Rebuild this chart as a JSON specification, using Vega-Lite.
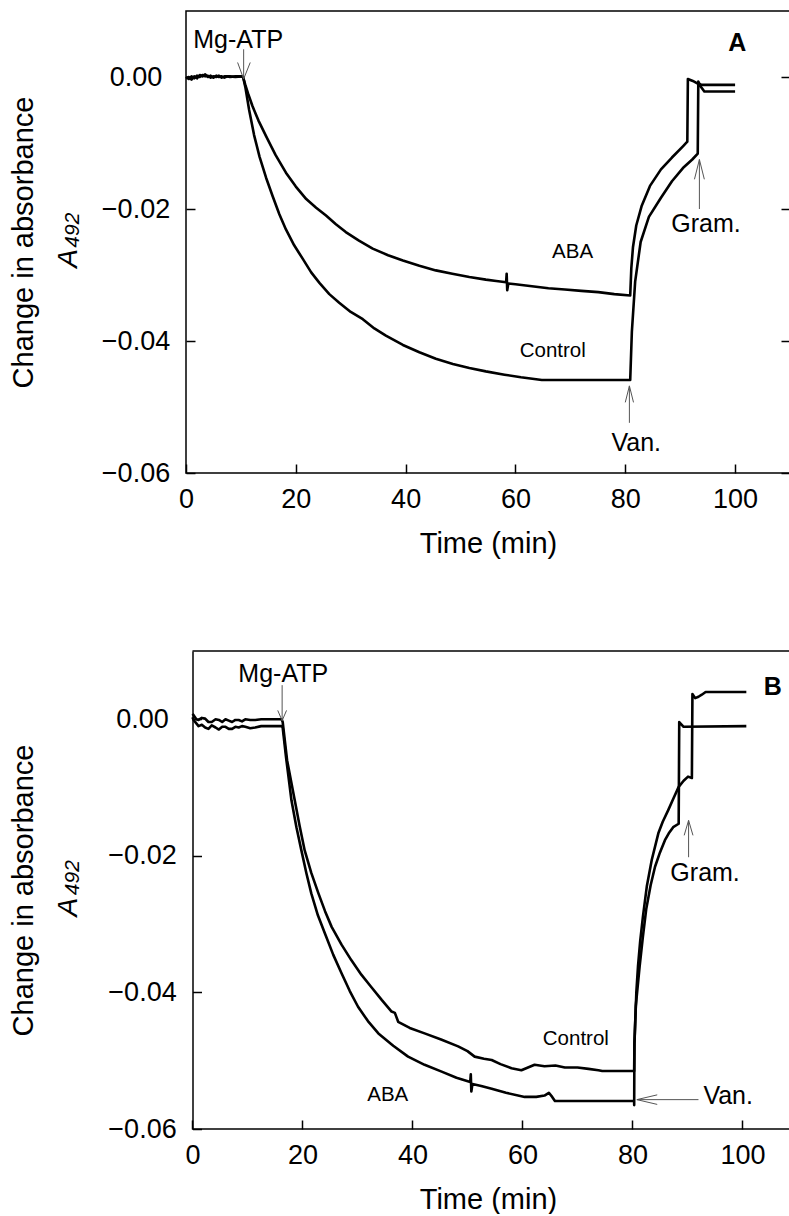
{
  "$schema": "https://vega.github.io/schema/vega-lite/v6.json",
  "background": "white",
  "padding": {"left": 8, "top": 10, "right": 0, "bottom": 0},
  "spacing": 91,
  "config": {
    "font": "Liberation Sans",
    "view": {"stroke": "black", "strokeWidth": 1.5},
    "axis": {"grid": false, "labelFlush": false, "labelOverlap": false, "labelColor": "black", "titleColor": "black", "tickColor": "black", "domainColor": "black", "labelFontSize": 27, "titleFontSize": 29, "titleFontWeight": "normal", "tickWidth": 1.5, "domainWidth": 1.5}
  },
  "datasets": {
    "curves": [
      {"p":"A","s":"ABA","t":0,"v":-0.0002},{"p":"A","s":"ABA","t":0.5,"v":0.0},{"p":"A","s":"ABA","t":1,"v":-0.0004},{"p":"A","s":"ABA","t":1.5,"v":0.0001},{"p":"A","s":"ABA","t":2,"v":-0.0002},{"p":"A","s":"ABA","t":2.5,"v":0.0003},{"p":"A","s":"ABA","t":3,"v":0.0001},{"p":"A","s":"ABA","t":3.5,"v":0.0004},{"p":"A","s":"ABA","t":4,"v":0.0},{"p":"A","s":"ABA","t":4.5,"v":0.0002},{"p":"A","s":"ABA","t":5,"v":-0.0001},{"p":"A","s":"ABA","t":5.5,"v":0.0002},{"p":"A","s":"ABA","t":6,"v":0.0},{"p":"A","s":"ABA","t":6.5,"v":0.0001},{"p":"A","s":"ABA","t":7,"v":-0.0001},{"p":"A","s":"ABA","t":7.5,"v":0.0001},{"p":"A","s":"ABA","t":8,"v":0.0},{"p":"A","s":"ABA","t":9,"v":0.0001},{"p":"A","s":"ABA","t":10,"v":0.0001},{"p":"A","s":"ABA","t":10.4,"v":0.0},
      {"p":"A","s":"ABA","t":10.8,"v":-0.0012},{"p":"A","s":"ABA","t":11.3,"v":-0.0025},{"p":"A","s":"ABA","t":12.1,"v":-0.0044},{"p":"A","s":"ABA","t":13.2,"v":-0.0066},{"p":"A","s":"ABA","t":14.6,"v":-0.009},{"p":"A","s":"ABA","t":16.3,"v":-0.0118},{"p":"A","s":"ABA","t":18.2,"v":-0.0145},{"p":"A","s":"ABA","t":20,"v":-0.0166},{"p":"A","s":"ABA","t":21.9,"v":-0.0185},{"p":"A","s":"ABA","t":23.7,"v":-0.0198},{"p":"A","s":"ABA","t":25.5,"v":-0.021},{"p":"A","s":"ABA","t":27.3,"v":-0.0223},{"p":"A","s":"ABA","t":29.1,"v":-0.0235},{"p":"A","s":"ABA","t":31.5,"v":-0.0248},{"p":"A","s":"ABA","t":34,"v":-0.026},{"p":"A","s":"ABA","t":36.8,"v":-0.027},{"p":"A","s":"ABA","t":39.5,"v":-0.0278},{"p":"A","s":"ABA","t":42.5,"v":-0.0286},{"p":"A","s":"ABA","t":45.5,"v":-0.0293},{"p":"A","s":"ABA","t":48.5,"v":-0.0298},{"p":"A","s":"ABA","t":51.6,"v":-0.0303},{"p":"A","s":"ABA","t":54.6,"v":-0.0307},{"p":"A","s":"ABA","t":56.5,"v":-0.0309},{"p":"A","s":"ABA","t":58.3,"v":-0.0311},{"p":"A","s":"ABA","t":58.4,"v":-0.0298},{"p":"A","s":"ABA","t":58.5,"v":-0.0323},{"p":"A","s":"ABA","t":58.7,"v":-0.0313},{"p":"A","s":"ABA","t":60,"v":-0.0314},{"p":"A","s":"ABA","t":63,"v":-0.0317},{"p":"A","s":"ABA","t":66,"v":-0.032},{"p":"A","s":"ABA","t":69,"v":-0.0322},{"p":"A","s":"ABA","t":72,"v":-0.0324},{"p":"A","s":"ABA","t":75.1,"v":-0.0326},{"p":"A","s":"ABA","t":78,"v":-0.0329},{"p":"A","s":"ABA","t":80.9,"v":-0.0331},
      {"p":"A","s":"ABA","t":81.1,"v":-0.029},{"p":"A","s":"ABA","t":81.4,"v":-0.0258},{"p":"A","s":"ABA","t":82,"v":-0.0225},{"p":"A","s":"ABA","t":83,"v":-0.0195},{"p":"A","s":"ABA","t":84.5,"v":-0.0165},{"p":"A","s":"ABA","t":86.5,"v":-0.014},{"p":"A","s":"ABA","t":88.5,"v":-0.0122},{"p":"A","s":"ABA","t":90.5,"v":-0.0105},{"p":"A","s":"ABA","t":91.3,"v":-0.0098},{"p":"A","s":"ABA","t":91.4,"v":-0.0003},{"p":"A","s":"ABA","t":92.3,"v":-0.0006},{"p":"A","s":"ABA","t":93.2,"v":-0.001},{"p":"A","s":"ABA","t":94,"v":-0.0012},{"p":"A","s":"ABA","t":100,"v":-0.0012},

      {"p":"A","s":"Control","t":0,"v":0.0},{"p":"A","s":"Control","t":0.5,"v":-0.0003},{"p":"A","s":"Control","t":1,"v":0.0001},{"p":"A","s":"Control","t":1.5,"v":-0.0002},{"p":"A","s":"Control","t":2,"v":0.0002},{"p":"A","s":"Control","t":2.5,"v":0.0},{"p":"A","s":"Control","t":3,"v":0.0003},{"p":"A","s":"Control","t":3.5,"v":0.0001},{"p":"A","s":"Control","t":4,"v":0.0002},{"p":"A","s":"Control","t":4.5,"v":-0.0001},{"p":"A","s":"Control","t":5,"v":0.0001},{"p":"A","s":"Control","t":5.5,"v":0.0},{"p":"A","s":"Control","t":6,"v":0.0002},{"p":"A","s":"Control","t":6.5,"v":-0.0001},{"p":"A","s":"Control","t":7,"v":0.0001},{"p":"A","s":"Control","t":8,"v":0.0001},{"p":"A","s":"Control","t":9,"v":0.0},{"p":"A","s":"Control","t":10,"v":0.0001},{"p":"A","s":"Control","t":10.4,"v":0.0},
      {"p":"A","s":"Control","t":10.8,"v":-0.0015},{"p":"A","s":"Control","t":11.5,"v":-0.005},{"p":"A","s":"Control","t":12.4,"v":-0.0088},{"p":"A","s":"Control","t":13.4,"v":-0.0121},{"p":"A","s":"Control","t":14.6,"v":-0.0153},{"p":"A","s":"Control","t":15.8,"v":-0.0181},{"p":"A","s":"Control","t":17,"v":-0.0208},{"p":"A","s":"Control","t":18.2,"v":-0.0231},{"p":"A","s":"Control","t":19.7,"v":-0.0255},{"p":"A","s":"Control","t":21.3,"v":-0.0276},{"p":"A","s":"Control","t":22.8,"v":-0.0296},{"p":"A","s":"Control","t":24.3,"v":-0.0312},{"p":"A","s":"Control","t":26.1,"v":-0.0329},{"p":"A","s":"Control","t":27.9,"v":-0.0342},{"p":"A","s":"Control","t":30,"v":-0.0356},{"p":"A","s":"Control","t":32.2,"v":-0.0367},{"p":"A","s":"Control","t":34.3,"v":-0.0381},{"p":"A","s":"Control","t":36.4,"v":-0.0392},{"p":"A","s":"Control","t":39.5,"v":-0.0406},{"p":"A","s":"Control","t":42.5,"v":-0.0417},{"p":"A","s":"Control","t":45.5,"v":-0.0427},{"p":"A","s":"Control","t":48.6,"v":-0.0435},{"p":"A","s":"Control","t":51.6,"v":-0.0441},{"p":"A","s":"Control","t":54.6,"v":-0.0446},{"p":"A","s":"Control","t":58,"v":-0.0451},{"p":"A","s":"Control","t":61,"v":-0.0455},{"p":"A","s":"Control","t":64.8,"v":-0.0459},{"p":"A","s":"Control","t":70,"v":-0.0459},{"p":"A","s":"Control","t":75,"v":-0.0459},{"p":"A","s":"Control","t":80.9,"v":-0.0459},
      {"p":"A","s":"Control","t":81.2,"v":-0.0386},{"p":"A","s":"Control","t":81.8,"v":-0.031},{"p":"A","s":"Control","t":82.8,"v":-0.025},{"p":"A","s":"Control","t":84.3,"v":-0.0212},{"p":"A","s":"Control","t":86.5,"v":-0.0183},{"p":"A","s":"Control","t":88.5,"v":-0.0158},{"p":"A","s":"Control","t":90.5,"v":-0.0138},{"p":"A","s":"Control","t":92.2,"v":-0.0125},{"p":"A","s":"Control","t":93.2,"v":-0.0116},{"p":"A","s":"Control","t":93.3,"v":-0.0007},{"p":"A","s":"Control","t":93.8,"v":-0.0015},{"p":"A","s":"Control","t":94.4,"v":-0.0022},{"p":"A","s":"Control","t":100,"v":-0.0022},

      {"p":"B","s":"ABA","t":0,"v":0.0003},{"p":"B","s":"ABA","t":0.2,"v":-0.0001},{"p":"B","s":"ABA","t":0.7,"v":-0.0006},{"p":"B","s":"ABA","t":1.1,"v":-0.001},{"p":"B","s":"ABA","t":1.7,"v":-0.0008},{"p":"B","s":"ABA","t":2.3,"v":-0.0012},{"p":"B","s":"ABA","t":2.9,"v":-0.0014},{"p":"B","s":"ABA","t":3.5,"v":-0.0009},{"p":"B","s":"ABA","t":4.2,"v":-0.0012},{"p":"B","s":"ABA","t":4.8,"v":-0.0015},{"p":"B","s":"ABA","t":5.4,"v":-0.0011},{"p":"B","s":"ABA","t":6,"v":-0.0011},{"p":"B","s":"ABA","t":6.6,"v":-0.0014},{"p":"B","s":"ABA","t":7.2,"v":-0.0014},{"p":"B","s":"ABA","t":7.8,"v":-0.0011},{"p":"B","s":"ABA","t":8.4,"v":-0.0012},{"p":"B","s":"ABA","t":9,"v":-0.001},{"p":"B","s":"ABA","t":9.6,"v":-0.0011},{"p":"B","s":"ABA","t":10.5,"v":-0.0013},{"p":"B","s":"ABA","t":11.4,"v":-0.0012},{"p":"B","s":"ABA","t":12.5,"v":-0.001},{"p":"B","s":"ABA","t":13.5,"v":-0.001},{"p":"B","s":"ABA","t":16.2,"v":-0.001},
      {"p":"B","s":"ABA","t":16.4,"v":-0.0012},{"p":"B","s":"ABA","t":17,"v":-0.0055},{"p":"B","s":"ABA","t":18,"v":-0.0119},{"p":"B","s":"ABA","t":18.9,"v":-0.0158},{"p":"B","s":"ABA","t":19.8,"v":-0.0192},{"p":"B","s":"ABA","t":20.7,"v":-0.0225},{"p":"B","s":"ABA","t":21.6,"v":-0.0255},{"p":"B","s":"ABA","t":22.8,"v":-0.0287},{"p":"B","s":"ABA","t":24.1,"v":-0.0314},{"p":"B","s":"ABA","t":25.6,"v":-0.0345},{"p":"B","s":"ABA","t":27.1,"v":-0.0372},{"p":"B","s":"ABA","t":28.6,"v":-0.0398},{"p":"B","s":"ABA","t":30.1,"v":-0.0421},{"p":"B","s":"ABA","t":31.9,"v":-0.0442},{"p":"B","s":"ABA","t":33.8,"v":-0.046},{"p":"B","s":"ABA","t":36.5,"v":-0.0478},{"p":"B","s":"ABA","t":39.2,"v":-0.0494},{"p":"B","s":"ABA","t":42.2,"v":-0.0506},{"p":"B","s":"ABA","t":45.3,"v":-0.0516},{"p":"B","s":"ABA","t":48,"v":-0.0525},{"p":"B","s":"ABA","t":50.5,"v":-0.0531},{"p":"B","s":"ABA","t":50.6,"v":-0.052},{"p":"B","s":"ABA","t":50.7,"v":-0.0545},{"p":"B","s":"ABA","t":50.9,"v":-0.0534},{"p":"B","s":"ABA","t":52.5,"v":-0.0537},{"p":"B","s":"ABA","t":54.4,"v":-0.0541},{"p":"B","s":"ABA","t":57,"v":-0.0547},{"p":"B","s":"ABA","t":60.4,"v":-0.0553},{"p":"B","s":"ABA","t":62.5,"v":-0.0553},{"p":"B","s":"ABA","t":64,"v":-0.0551},{"p":"B","s":"ABA","t":64.8,"v":-0.0547},{"p":"B","s":"ABA","t":65.4,"v":-0.0553},{"p":"B","s":"ABA","t":65.9,"v":-0.0559},{"p":"B","s":"ABA","t":70,"v":-0.0559},{"p":"B","s":"ABA","t":75,"v":-0.0559},{"p":"B","s":"ABA","t":80.3,"v":-0.0559},{"p":"B","s":"ABA","t":80.31,"v":-0.0565},
      {"p":"B","s":"ABA","t":80.35,"v":-0.0475},{"p":"B","s":"ABA","t":80.6,"v":-0.042},{"p":"B","s":"ABA","t":81.3,"v":-0.0362},{"p":"B","s":"ABA","t":81.9,"v":-0.0318},{"p":"B","s":"ABA","t":82.5,"v":-0.0278},{"p":"B","s":"ABA","t":83.3,"v":-0.0243},{"p":"B","s":"ABA","t":84.1,"v":-0.0216},{"p":"B","s":"ABA","t":85,"v":-0.0195},{"p":"B","s":"ABA","t":85.9,"v":-0.0177},{"p":"B","s":"ABA","t":86.6,"v":-0.0167},{"p":"B","s":"ABA","t":87.4,"v":-0.0158},{"p":"B","s":"ABA","t":88.4,"v":-0.0153},{"p":"B","s":"ABA","t":88.5,"v":-0.0004},{"p":"B","s":"ABA","t":89.3,"v":-0.0011},{"p":"B","s":"ABA","t":100.7,"v":-0.001},

      {"p":"B","s":"Control","t":0,"v":0.0008},{"p":"B","s":"Control","t":0.2,"v":0.0006},{"p":"B","s":"Control","t":0.7,"v":0.0},{"p":"B","s":"Control","t":1.1,"v":-0.0001},{"p":"B","s":"Control","t":1.7,"v":0.0002},{"p":"B","s":"Control","t":2.3,"v":0.0001},{"p":"B","s":"Control","t":2.9,"v":-0.0004},{"p":"B","s":"Control","t":3.5,"v":-0.0004},{"p":"B","s":"Control","t":4.2,"v":0.0},{"p":"B","s":"Control","t":4.8,"v":-0.0001},{"p":"B","s":"Control","t":5.4,"v":-0.0004},{"p":"B","s":"Control","t":6,"v":0.0},{"p":"B","s":"Control","t":6.6,"v":-0.0002},{"p":"B","s":"Control","t":7.2,"v":-0.0004},{"p":"B","s":"Control","t":7.8,"v":-0.0001},{"p":"B","s":"Control","t":8.4,"v":-0.0001},{"p":"B","s":"Control","t":9,"v":-0.0003},{"p":"B","s":"Control","t":9.6,"v":0.0},{"p":"B","s":"Control","t":10.5,"v":-0.0001},{"p":"B","s":"Control","t":11.4,"v":-0.0001},{"p":"B","s":"Control","t":12.5,"v":0.0},{"p":"B","s":"Control","t":16.2,"v":0.0},
      {"p":"B","s":"Control","t":16.4,"v":-0.0004},{"p":"B","s":"Control","t":17.2,"v":-0.006},{"p":"B","s":"Control","t":18.6,"v":-0.0119},{"p":"B","s":"Control","t":19.5,"v":-0.0157},{"p":"B","s":"Control","t":20.4,"v":-0.0192},{"p":"B","s":"Control","t":21.6,"v":-0.0225},{"p":"B","s":"Control","t":22.9,"v":-0.0255},{"p":"B","s":"Control","t":24.1,"v":-0.0281},{"p":"B","s":"Control","t":25.3,"v":-0.0304},{"p":"B","s":"Control","t":27.1,"v":-0.033},{"p":"B","s":"Control","t":28.9,"v":-0.0353},{"p":"B","s":"Control","t":30.7,"v":-0.0374},{"p":"B","s":"Control","t":32.5,"v":-0.0392},{"p":"B","s":"Control","t":34.4,"v":-0.0411},{"p":"B","s":"Control","t":36.2,"v":-0.0428},{"p":"B","s":"Control","t":36.8,"v":-0.043},{"p":"B","s":"Control","t":37.4,"v":-0.0443},{"p":"B","s":"Control","t":39.5,"v":-0.0452},{"p":"B","s":"Control","t":42.2,"v":-0.046},{"p":"B","s":"Control","t":45.2,"v":-0.0469},{"p":"B","s":"Control","t":48.3,"v":-0.0479},{"p":"B","s":"Control","t":50,"v":-0.0486},{"p":"B","s":"Control","t":51.3,"v":-0.0494},{"p":"B","s":"Control","t":53,"v":-0.0497},{"p":"B","s":"Control","t":54.4,"v":-0.0499},{"p":"B","s":"Control","t":56,"v":-0.0505},{"p":"B","s":"Control","t":58,"v":-0.0511},{"p":"B","s":"Control","t":59.8,"v":-0.0514},{"p":"B","s":"Control","t":61,"v":-0.051},{"p":"B","s":"Control","t":62.2,"v":-0.0506},{"p":"B","s":"Control","t":64,"v":-0.0508},{"p":"B","s":"Control","t":66,"v":-0.0507},{"p":"B","s":"Control","t":67.7,"v":-0.051},{"p":"B","s":"Control","t":70,"v":-0.051},{"p":"B","s":"Control","t":72,"v":-0.0512},{"p":"B","s":"Control","t":73.8,"v":-0.0514},{"p":"B","s":"Control","t":74.5,"v":-0.0515},{"p":"B","s":"Control","t":80.3,"v":-0.0515},
      {"p":"B","s":"Control","t":80.36,"v":-0.0475},{"p":"B","s":"Control","t":80.7,"v":-0.04},{"p":"B","s":"Control","t":81,"v":-0.0362},{"p":"B","s":"Control","t":81.4,"v":-0.0325},{"p":"B","s":"Control","t":81.9,"v":-0.0289},{"p":"B","s":"Control","t":82.6,"v":-0.0245},{"p":"B","s":"Control","t":83.5,"v":-0.0206},{"p":"B","s":"Control","t":84.7,"v":-0.0167},{"p":"B","s":"Control","t":85.5,"v":-0.015},{"p":"B","s":"Control","t":86.5,"v":-0.0133},{"p":"B","s":"Control","t":87.5,"v":-0.0115},{"p":"B","s":"Control","t":88.4,"v":-0.0099},{"p":"B","s":"Control","t":89.3,"v":-0.009},{"p":"B","s":"Control","t":90.1,"v":-0.0084},{"p":"B","s":"Control","t":90.8,"v":-0.0086},{"p":"B","s":"Control","t":90.9,"v":0.0037},{"p":"B","s":"Control","t":91.4,"v":0.0031},{"p":"B","s":"Control","t":92,"v":0.0033},{"p":"B","s":"Control","t":92.6,"v":0.0036},{"p":"B","s":"Control","t":93.3,"v":0.004},{"p":"B","s":"Control","t":100.7,"v":0.004}
    ],
    "segs": [
      {"p":"A","t":10.5,"v":0.0042,"t2":10.5,"v2":-0.0003},{"p":"A","t":9.4,"v":0.0022,"t2":10.5,"v2":-0.0003},{"p":"A","t":11.7,"v":0.0022,"t2":10.5,"v2":-0.0003},
      {"p":"A","t":80.75,"v":-0.0524,"t2":80.75,"v2":-0.0468},{"p":"A","t":80.0,"v":-0.0493,"t2":80.75,"v2":-0.0468},{"p":"A","t":81.5,"v":-0.0493,"t2":80.75,"v2":-0.0468},
      {"p":"A","t":93.5,"v":-0.02,"t2":93.5,"v2":-0.0125},{"p":"A","t":92.6,"v":-0.0155,"t2":93.5,"v2":-0.0125},{"p":"A","t":94.4,"v":-0.0155,"t2":93.5,"v2":-0.0125},
      {"p":"B","t":16.3,"v":0.005,"t2":16.3,"v2":-0.0002},{"p":"B","t":15.5,"v":0.0013,"t2":16.3,"v2":-0.0002},{"p":"B","t":17.1,"v":0.0013,"t2":16.3,"v2":-0.0002},
      {"p":"B","t":90.2,"v":-0.0202,"t2":90.2,"v2":-0.0148},{"p":"B","t":89.4,"v":-0.017,"t2":90.2,"v2":-0.0148},{"p":"B","t":91.0,"v":-0.017,"t2":90.2,"v2":-0.0148},
      {"p":"B","t":92.0,"v":-0.0557,"t2":80.8,"v2":-0.0557},{"p":"B","t":84.5,"v":-0.055,"t2":80.8,"v2":-0.0557},{"p":"B","t":84.5,"v":-0.0564,"t2":80.8,"v2":-0.0557}
    ],
    "frame": [
      {"t":0,"t2":108.64,"v":0.01},
      {"t":0,"t2":108.64,"v":-0.06}
    ],
    "notes": [
      {"p":"A","k":"big","t":9.5,"v":0.0056,"lab":"Mg-ATP"},
      {"p":"A","k":"letter","t":100.4,"v":0.0051,"lab":"A"},
      {"p":"A","k":"small","t":70.4,"v":-0.0265,"lab":"ABA"},
      {"p":"A","k":"small","t":66.8,"v":-0.0415,"lab":"Control"},
      {"p":"A","k":"big","t":82.0,"v":-0.0555,"lab":"Van."},
      {"p":"A","k":"big","t":94.7,"v":-0.0222,"lab":"Gram."},
      {"p":"A","k":"sym","t":-21.3,"v":-0.0275,"lab":"A"},
      {"p":"A","k":"sub","t":-20.5,"v":-0.0232,"lab":"492"},
      {"p":"B","k":"big","t":16.5,"v":0.0067,"lab":"Mg-ATP"},
      {"p":"B","k":"letter","t":105.5,"v":0.0048,"lab":"B"},
      {"p":"B","k":"small","t":69.7,"v":-0.0468,"lab":"Control"},
      {"p":"B","k":"small","t":35.5,"v":-0.055,"lab":"ABA"},
      {"p":"B","k":"big","t":97.4,"v":-0.0552,"lab":"Van."},
      {"p":"B","k":"big","t":93.2,"v":-0.0225,"lab":"Gram."},
      {"p":"B","k":"sym","t":-22.5,"v":-0.0275,"lab":"A"},
      {"p":"B","k":"sub","t":-21.7,"v":-0.0232,"lab":"492"}
    ]
  },
  "vconcat": [
    {
      "width": 604,
      "height": 462,
      "encoding": {
        "x": {"field": "t", "type": "quantitative", "scale": {"domain": [0, 110], "nice": false, "zero": false}, "axis": null},
        "y": {"field": "v", "type": "quantitative", "scale": {"domain": [-0.06, 0.01], "nice": false, "zero": false}, "axis": null}
      },
      "resolve": {"axis": {"x": "independent", "y": "independent"}},
      "layer": [
        {
          "data": {"name": "curves"},
          "transform": [{"filter": "datum.p == 'A'"}],
          "mark": {"type": "line", "color": "black", "strokeWidth": 2.6, "strokeJoin": "round"},
          "encoding": {
            "x": {"field": "t", "type": "quantitative", "scale": {"domain": [0, 110], "nice": false, "zero": false},
                  "axis": {"values": [0, 20, 40, 60, 80, 100], "tickSize": -9, "labelPadding": 22, "domain": false, "title": "Time (min)", "titlePadding": 17}},
            "y": {"field": "v", "type": "quantitative", "scale": {"domain": [-0.06, 0.01], "nice": false, "zero": false},
                  "axis": {"orient": "left", "values": [0, -0.02, -0.04, -0.06], "format": ".2f", "tickSize": -9, "labelPadding": 59.5, "labelAlign": "center", "domain": false,
                           "title": "Change in absorbance", "titlePadding": 63}},
            "detail": {"field": "s"}
          }
        },
        {
          "data": {"name": "segs"},
          "transform": [{"filter": "datum.p == 'A'"}],
          "mark": {"type": "rule", "color": "#555555", "strokeWidth": 1},
          "encoding": {
            "y": {"field": "v", "type": "quantitative", "scale": {"domain": [-0.06, 0.01], "nice": false, "zero": false},
                  "axis": {"orient": "right", "values": [0, -0.02, -0.04, -0.06], "tickSize": -9, "labels": false, "domain": false, "title": null}},
            "x2": {"field": "t2"},
            "y2": {"field": "v2"}
          }
        },
        {
          "data": {"name": "notes"},
          "transform": [{"filter": "datum.p == 'A' && datum.k == 'big'"}],
          "mark": {"type": "text", "fontSize": 25, "color": "black", "align": "center", "baseline": "middle"},
          "encoding": {"text": {"field": "lab"}}
        },
        {
          "data": {"name": "notes"},
          "transform": [{"filter": "datum.p == 'A' && datum.k == 'small'"}],
          "mark": {"type": "text", "fontSize": 20.5, "color": "black", "align": "center", "baseline": "middle"},
          "encoding": {"text": {"field": "lab"}}
        },
        {
          "data": {"name": "notes"},
          "transform": [{"filter": "datum.p == 'A' && datum.k == 'letter'"}],
          "mark": {"type": "text", "fontSize": 25, "fontWeight": "bold", "color": "black", "align": "center", "baseline": "middle"},
          "encoding": {"text": {"field": "lab"}}
        },
        {
          "data": {"name": "notes"},
          "transform": [{"filter": "datum.p == 'A' && datum.k == 'sym'"}],
          "mark": {"type": "text", "fontSize": 28, "fontStyle": "italic", "angle": 270, "color": "black", "align": "center", "baseline": "middle"},
          "encoding": {"text": {"field": "lab"}}
        },
        {
          "data": {"name": "notes"},
          "transform": [{"filter": "datum.p == 'A' && datum.k == 'sub'"}],
          "mark": {"type": "text", "fontSize": 21, "fontStyle": "italic", "angle": 270, "color": "black", "align": "center", "baseline": "middle"},
          "encoding": {"text": {"field": "lab"}}
        }
      ]
    },
    {
      "width": 604,
      "height": 478,
      "view": {"stroke": null},
      "encoding": {
        "x": {"field": "t", "type": "quantitative", "scale": {"domain": [-1.18, 108.64], "nice": false, "zero": false}, "axis": null},
        "y": {"field": "v", "type": "quantitative", "scale": {"domain": [-0.06, 0.01], "nice": false, "zero": false}, "axis": null}
      },
      "resolve": {"axis": {"x": "independent", "y": "independent"}},
      "layer": [
        {
          "data": {"name": "curves"},
          "transform": [{"filter": "datum.p == 'B'"}],
          "mark": {"type": "line", "color": "black", "strokeWidth": 2.6, "strokeJoin": "round"},
          "encoding": {
            "x": {"field": "t", "type": "quantitative", "scale": {"domain": [-1.18, 108.64], "nice": false, "zero": false},
                  "axis": {"values": [0, 20, 40, 60, 80, 100], "tickSize": -9, "labelPadding": 22, "domain": false, "title": "Time (min)", "titlePadding": 17}},
            "y": {"field": "v", "type": "quantitative", "scale": {"domain": [-0.06, 0.01], "nice": false, "zero": false},
                  "axis": {"orient": "left", "offset": -6.5, "values": [0, -0.02, -0.04, -0.06], "format": ".2f", "tickSize": -9, "labelPadding": 59.5, "labelAlign": "center", "domain": true,
                           "title": "Change in absorbance", "titlePadding": 69.5}},
            "detail": {"field": "s"}
          }
        },
        {
          "data": {"name": "frame"},
          "mark": {"type": "rule", "color": "black", "strokeWidth": 1.5},
          "encoding": {
            "x2": {"field": "t2"}
          }
        },
        {
          "data": {"name": "segs"},
          "transform": [{"filter": "datum.p == 'B'"}],
          "mark": {"type": "rule", "color": "#555555", "strokeWidth": 1},
          "encoding": {
            "x2": {"field": "t2"},
            "y2": {"field": "v2"}
          }
        },
        {
          "data": {"name": "notes"},
          "transform": [{"filter": "datum.p == 'B' && datum.k == 'big'"}],
          "mark": {"type": "text", "fontSize": 25, "color": "black", "align": "center", "baseline": "middle"},
          "encoding": {"text": {"field": "lab"}}
        },
        {
          "data": {"name": "notes"},
          "transform": [{"filter": "datum.p == 'B' && datum.k == 'small'"}],
          "mark": {"type": "text", "fontSize": 20.5, "color": "black", "align": "center", "baseline": "middle"},
          "encoding": {"text": {"field": "lab"}}
        },
        {
          "data": {"name": "notes"},
          "transform": [{"filter": "datum.p == 'B' && datum.k == 'letter'"}],
          "mark": {"type": "text", "fontSize": 25, "fontWeight": "bold", "color": "black", "align": "center", "baseline": "middle"},
          "encoding": {"text": {"field": "lab"}}
        },
        {
          "data": {"name": "notes"},
          "transform": [{"filter": "datum.p == 'B' && datum.k == 'sym'"}],
          "mark": {"type": "text", "fontSize": 28, "fontStyle": "italic", "angle": 270, "color": "black", "align": "center", "baseline": "middle"},
          "encoding": {"text": {"field": "lab"}}
        },
        {
          "data": {"name": "notes"},
          "transform": [{"filter": "datum.p == 'B' && datum.k == 'sub'"}],
          "mark": {"type": "text", "fontSize": 21, "fontStyle": "italic", "angle": 270, "color": "black", "align": "center", "baseline": "middle"},
          "encoding": {"text": {"field": "lab"}}
        }
      ]
    }
  ]
}
